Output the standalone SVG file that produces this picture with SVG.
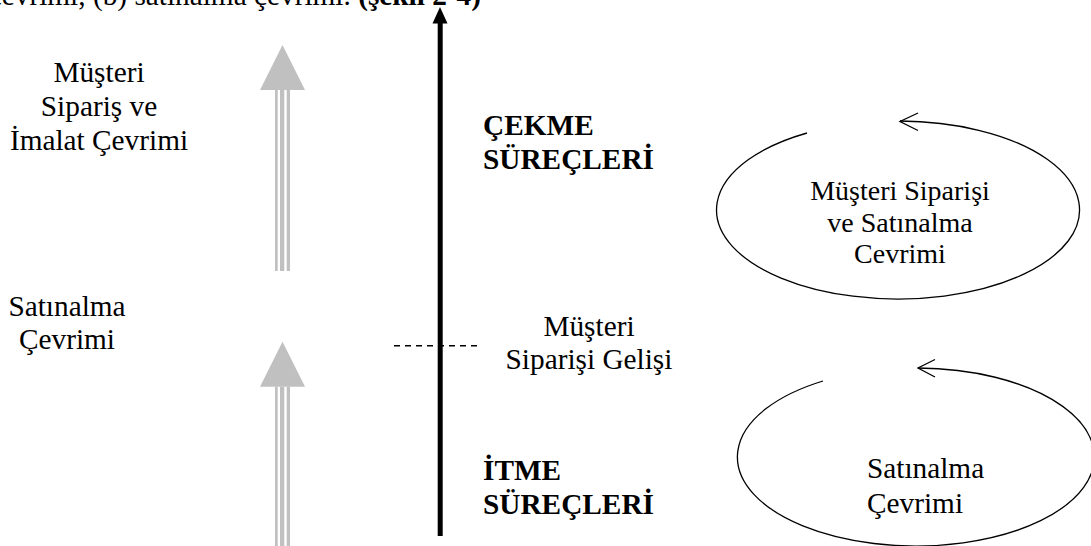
<svg xmlns="http://www.w3.org/2000/svg" width="1091" height="546" viewBox="0 0 1091 546">
  <style>
    text { font-family: "Liberation Serif", "Times New Roman", serif; fill: #000; }
    .lbl { font-size: 29.3px; }
    .bold { font-size: 29.3px; font-weight: bold; }
    .cyc { font-size: 28px; }
    .grey { fill: #c0c0c0; }
    .stripe { stroke: #c0c0c0; fill: none; }
    .loop { fill: none; stroke: #000; stroke-width: 1.3; }
  </style>
  <defs>
    <!-- hollow grey arrow: triangle head with a triple-striped shaft -->
    <g id="greyArrowHead">
      <polygon class="grey" points="282.5,45 260,90 305,90"/>
    </g>
  </defs>
  <rect width="1091" height="546" fill="#fff"/>

  <!-- caption line, mostly above the top edge -->
  <text class="lbl" x="481" y="5" text-anchor="end">çevrimi, (b) satınalma çevrimi. <tspan font-weight="bold">(şekil 2-4)</tspan></text>

  <g id="connectors">
    <!-- upper grey arrow -->
    <g id="grey-arrow-upper">
      <polygon class="grey" points="282.5,45 260,90 305,90"/>
      <rect class="grey" x="275" y="90" width="2.7" height="181"/>
      <rect class="grey" x="280" y="90" width="4.3" height="181"/>
      <rect class="grey" x="286.7" y="90" width="3.3" height="181"/>
    </g>
    <!-- lower grey arrow -->
    <g id="grey-arrow-lower">
      <polygon class="grey" points="282.5,341.7 260,386.7 305,386.7"/>
      <rect class="grey" x="275" y="386.7" width="2.7" height="160"/>
      <rect class="grey" x="280" y="386.7" width="4.3" height="160"/>
      <rect class="grey" x="286.7" y="386.7" width="3.3" height="160"/>
    </g>
    <!-- black time axis -->
    <g id="axis">
      <rect x="437.7" y="22" width="5" height="514" fill="#000"/>
      <polygon points="440,7 432.5,23.5 447.5,23.5" fill="#000"/>
    </g>
    <!-- order arrival marker -->
    <line x1="394" y1="345.7" x2="481" y2="345.7" stroke="#000" stroke-width="1.5" stroke-dasharray="6,5"/>
    <!-- cycle loops -->
    <g id="loop-upper">
      <path class="loop" d="M807,133 A181.5,89 0 1 0 900,121"/>
      <path class="loop" d="M918,113 L900,121.5 L918,130.5"/>
    </g>
    <g id="loop-lower">
      <path class="loop" d="M823,381 A178.5,89 0 1 0 918,368"/>
      <path class="loop" d="M935,359.5 L918,368 L935,377"/>
    </g>
  </g>

  <g id="node-musteri-siparis-imalat">
    <text class="lbl" x="99" y="82" text-anchor="middle">Müşteri</text>
    <text class="lbl" x="99" y="116" text-anchor="middle">Sipariş ve</text>
    <text class="lbl" x="99" y="150" text-anchor="middle">İmalat Çevrimi</text>
  </g>

  <g id="node-satinalma-left">
    <text class="lbl" x="67" y="316" text-anchor="middle">Satınalma</text>
    <text class="lbl" x="67" y="349" text-anchor="middle">Çevrimi</text>
  </g>

  <g id="node-cekme">
    <text class="bold" x="483" y="135">ÇEKME</text>
    <text class="bold" x="483" y="169">SÜREÇLERİ</text>
  </g>

  <g id="node-siparis-gelisi">
    <text class="lbl" x="589" y="336" text-anchor="middle">Müşteri</text>
    <text class="lbl" x="589" y="369" text-anchor="middle">Siparişi Gelişi</text>
  </g>

  <g id="node-itme">
    <text class="bold" x="483" y="480">İTME</text>
    <text class="bold" x="483" y="514">SÜREÇLERİ</text>
  </g>

  <g id="node-cycle-upper">
    <text class="cyc" x="900" y="200" text-anchor="middle">Müşteri Siparişi</text>
    <text class="cyc" x="900" y="232" text-anchor="middle">ve Satınalma</text>
    <text class="cyc" x="900" y="263" text-anchor="middle">Cevrimi</text>
  </g>

  <g id="node-cycle-lower">
    <text class="lbl" x="867" y="478">Satınalma</text>
    <text class="lbl" x="867" y="513">Çevrimi</text>
  </g>
</svg>
